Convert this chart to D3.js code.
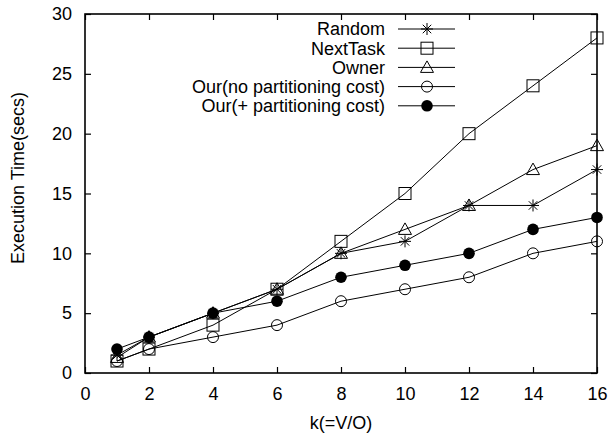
<!DOCTYPE html>
<html>
<head>
<meta charset="utf-8">
<script src="https://cdn.jsdelivr.net/npm/d3@7"></script>
<style>
  body { margin: 0; background: #fff; }
  text { font-family: "Liberation Sans", Arial, sans-serif; fill: #000; }
</style>
</head>
<body>
<script>
const width = 613;
const height = 434;

const kValues = [1, 2, 4, 6, 8, 10, 12, 14, 16];
const randomTimes = [1.5, 3, 5, 7, 10, 11, 14, 14, 17];
const nextTaskTimes = [1, 2, 4, 7, 11, 15, 20, 24, 28];
const ownerTimes = [1.3, 3, 5, 7, 10, 12, 14, 17, 19];
const ourNoPartTimes = [1, 2, 3, 4, 6, 7, 8, 10, 11];
const ourPartTimes = [2, 3, 5, 6, 8, 9, 10, 12, 13];
const xTicks = [0, 2, 4, 6, 8, 10, 12, 14, 16];
const yTicks = [0, 5, 10, 15, 20, 25, 30];

const seriesNames = ['Random', 'NextTask', 'Owner', 'Our(no partitioning cost)', 'Our(+ partitioning cost)'];
const seriesMarks = ['star', 'square', 'triangle', 'circle', 'dot'];
const seriesValues = [randomTimes, nextTaskTimes, ownerTimes, ourNoPartTimes, ourPartTimes];

const margin = {left: 85, right: 16, top: 14, bottom: 61};

let svg = d3.select('body').append('svg')
  .attr('width', width)
  .attr('height', height)

let x = d3.scaleLinear().domain([0, 16]).range([margin.left, width - margin.right])
let y = d3.scaleLinear().domain([0, 30]).range([height - margin.bottom, margin.top])

const tickLen = 6;

// ticks on all four sides, pointing inward
svg.append('g')
  .attr('transform', 'translate(0,' + y(0) + ')')
  .call(d3.axisBottom(x).tickValues(xTicks).tickSize(-tickLen).tickPadding(14))
  .call(g => g.select('.domain').remove())
svg.append('g')
  .attr('transform', 'translate(0,' + y(30) + ')')
  .call(d3.axisTop(x).tickValues(xTicks).tickSize(-tickLen).tickFormat(''))
  .call(g => g.select('.domain').remove())
svg.append('g')
  .attr('transform', 'translate(' + x(0) + ',0)')
  .call(d3.axisLeft(y).tickValues(yTicks).tickSize(-tickLen).tickPadding(13))
  .call(g => g.select('.domain').remove())
svg.append('g')
  .attr('transform', 'translate(' + x(16) + ',0)')
  .call(d3.axisRight(y).tickValues(yTicks).tickSize(-tickLen).tickFormat(''))
  .call(g => g.select('.domain').remove())

svg.selectAll('.tick text').style('font-size', '18px').style('font-family', '"Liberation Sans", Arial, sans-serif')
svg.selectAll('.tick line').attr('stroke', '#000').attr('stroke-width', 1.2)

svg.append('rect')
  .attr('x', x(0))
  .attr('y', y(30))
  .attr('width', x(16) - x(0))
  .attr('height', y(0) - y(30))
  .attr('fill', 'none')
  .attr('stroke', '#000')
  .attr('stroke-width', 1.6)

svg.append('text')
  .attr('x', (x(0) + x(16)) / 2)
  .attr('y', 429)
  .attr('text-anchor', 'middle')
  .style('font-size', '18px')
  .text('k(=V/O)')

svg.append('text')
  .attr('transform', 'translate(24,178) rotate(-90)')
  .attr('text-anchor', 'middle')
  .style('font-size', '18px')
  .text('Execution Time(secs)')

function drawMark(g, kind, cx, cy) {
  if (kind === 'star') {
    let r = 6
    for (let a = 0; a < 4; a++) {
      let ang = a * Math.PI / 4
      g.append('line')
        .attr('x1', cx - r * Math.cos(ang)).attr('y1', cy - r * Math.sin(ang))
        .attr('x2', cx + r * Math.cos(ang)).attr('y2', cy + r * Math.sin(ang))
        .attr('stroke', '#000').attr('stroke-width', 1)
    }
  } else if (kind === 'square') {
    g.append('rect')
      .attr('x', cx - 6).attr('y', cy - 6).attr('width', 12).attr('height', 12)
      .attr('fill', 'none').attr('stroke', '#000').attr('stroke-width', 1)
  } else if (kind === 'triangle') {
    g.append('path')
      .attr('d', 'M' + cx + ',' + (cy - 6.5) + 'L' + (cx + 6.5) + ',' + (cy + 5) + 'L' + (cx - 6.5) + ',' + (cy + 5) + 'Z')
      .attr('fill', 'none').attr('stroke', '#000').attr('stroke-width', 1)
  } else if (kind === 'circle') {
    g.append('circle').attr('cx', cx).attr('cy', cy).attr('r', 5.5)
      .attr('fill', 'none').attr('stroke', '#000').attr('stroke-width', 1)
  } else {
    g.append('circle').attr('cx', cx).attr('cy', cy).attr('r', 5.8)
      .attr('fill', '#000')
  }
}

let line = d3.line()
  .x(d => x(d[0]))
  .y(d => y(d[1]))

seriesValues.forEach((vals, i) => {
  let pts = kValues.map((k, j) => [k, vals[j]])
  let g = svg.append('g')
  g.append('path')
    .attr('d', line(pts))
    .attr('fill', 'none')
    .attr('stroke', '#000')
    .attr('stroke-width', 1)
  pts.forEach(p => drawMark(g, seriesMarks[i], x(p[0]), y(p[1])))
})

// legend
let legend = svg.append('g')
seriesNames.forEach((name, i) => {
  let ly = 29 + i * 19.2
  legend.append('text')
    .attr('x', 385)
    .attr('y', ly)
    .attr('dy', '0.35em')
    .attr('text-anchor', 'end')
    .style('font-size', '18px')
    .text(name)
  legend.append('line')
    .attr('x1', 398).attr('x2', 455)
    .attr('y1', ly).attr('y2', ly)
    .attr('stroke', '#000').attr('stroke-width', 1)
  drawMark(legend, seriesMarks[i], 427, ly)
})
</script>
</body>
</html>
